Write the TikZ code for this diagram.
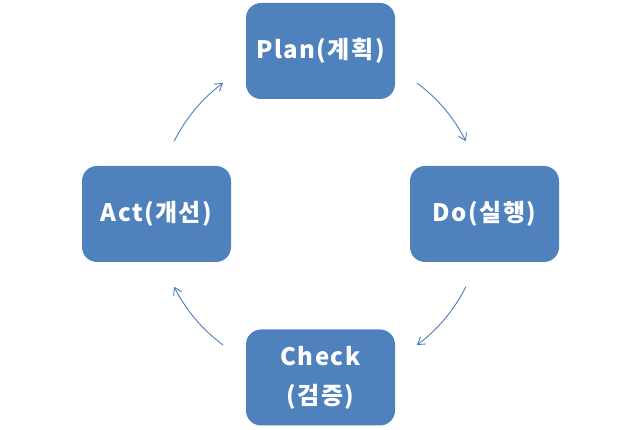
\documentclass[tikz,border=0pt]{standalone}
\usepackage{fontspec}
\setmainfont{Noto Sans CJK KR}[LetterSpace=6]
\usetikzlibrary{arrows.meta,calc}
\definecolor{boxblue}{HTML}{4F81BD}
\definecolor{arcblue}{HTML}{4A7EBB}
\begin{document}
\begin{tikzpicture}[x=1pt,y=1pt,
  stagebox/.style={rectangle, rounded corners=15pt, fill=boxblue, draw=none,
    minimum width=149pt, minimum height=96pt, text=white,
    font=\fontsize{24}{39}\selectfont\bfseries, align=center, inner sep=0pt},
  cyclearc/.style={draw=arcblue, line width=0.9pt,
    -{Straight Barb[length=7pt,width=9pt,line width=0.9pt]}}]
\useasboundingbox (0,0) rectangle (640,430);
\node[stagebox] (plan)  at (320.5,379) {Plan(계획)};
\node[stagebox] (do)    at (484.5,216) {Do(실행)};
\node[stagebox] (act)   at (156.5,216) {Act(개선)};
\node[stagebox] (check) at (320.5,52.5) {Check\\(검증)};
\coordinate (c) at (320,216);
\coordinate (a1) at ($(c)+(53.5:163)$);
\coordinate (a2) at ($(c)+(-26.5:163)$);
\coordinate (a3) at ($(c)+(-126.5:163)$);
\coordinate (a4) at ($(c)+(153.5:163)$);
\draw[cyclearc] (a1) arc[start angle=53.5, end angle=26.5, radius=163];
\draw[cyclearc] (a2) arc[start angle=-26.5, end angle=-53.5, radius=163];
\draw[cyclearc] (a3) arc[start angle=-126.5, end angle=-153.5, radius=163];
\draw[cyclearc] (a4) arc[start angle=153.5, end angle=126.5, radius=163];
\end{tikzpicture}
\end{document}
